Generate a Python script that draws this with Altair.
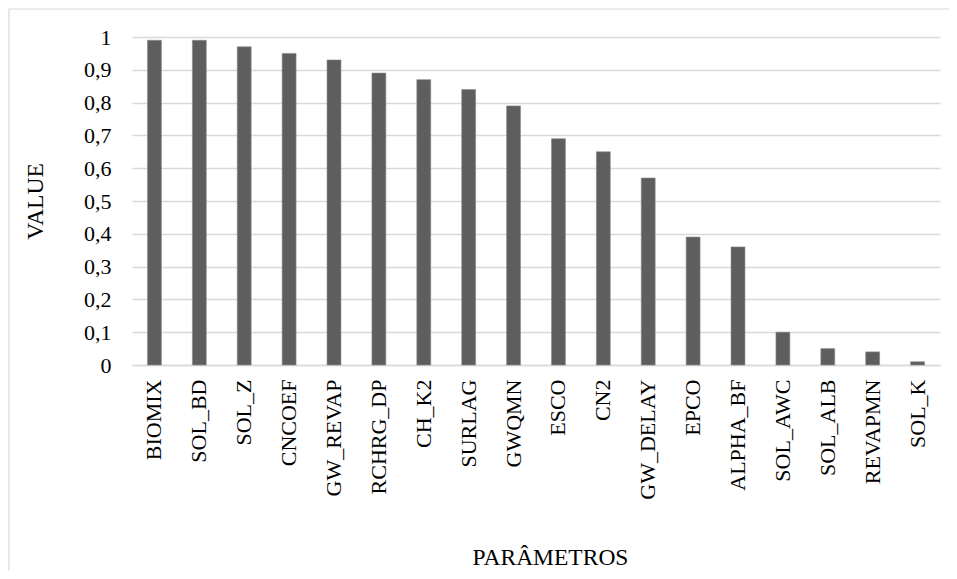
import altair as alt
import pandas as pd

parametros = ["BIOMIX", "SOL_BD", "SOL_Z", "CNCOEF", "GW_REVAP", "RCHRG_DP", "CH_K2",
              "SURLAG", "GWQMN", "ESCO", "CN2", "GW_DELAY", "EPCO", "ALPHA_BF",
              "SOL_AWC", "SOL_ALB", "REVAPMN", "SOL_K"]
values = [0.99, 0.99, 0.97, 0.95, 0.93, 0.89, 0.87, 0.84, 0.79, 0.69, 0.65, 0.57,
          0.39, 0.36, 0.10, 0.05, 0.04, 0.01]
y_ticks = [0, 0.1, 0.2, 0.3, 0.4, 0.5, 0.6, 0.7, 0.8, 0.9, 1.0]

df = pd.DataFrame({"PARAM": parametros, "VALUE": values})

FONT = "Liberation Serif"
W, H = 808, 328

border = alt.Chart(pd.DataFrame({"a": [0]})).mark_rect(
    fill="white", fillOpacity=0, stroke="#d9d9d9", strokeWidth=1.2
).encode(
    x=alt.value(-123), x2=alt.value(W + 40),
    y=alt.value(-28), y2=alt.value(H + 260)
)

bars = alt.Chart(df).mark_bar(color="#5e5e5e", stroke="#8a8a8a", strokeWidth=0.6).encode(
    x=alt.X("PARAM:N", sort=None,
            scale=alt.Scale(paddingInner=0.69, paddingOuter=0.345),
            axis=alt.Axis(title="PARÂMETROS", labelAngle=270, labelAlign="right",
                          labelBaseline="middle", labelPadding=14, ticks=False,
                          domainColor="#d9d9d9", domainWidth=1.3,
                          labelFont=FONT, labelFontSize=22, labelColor="black",
                          titleFont=FONT, titleFontSize=23.5, titleFontWeight="normal",
                          titleColor="black", titleX=418, titleY=199,
                          titleAlign="center", titleBaseline="alphabetic")),
    y=alt.Y("VALUE:Q",
            scale=alt.Scale(domain=[0, 1], nice=False),
            axis=alt.Axis(title="VALUE", values=y_ticks,
                          labelExpr="replace(format(datum.value, '.1~f'), '.', ',')",
                          domain=False, ticks=False, labelPadding=21,
                          gridColor="#d9d9d9", gridWidth=1.3,
                          labelFont=FONT, labelFontSize=22, labelColor="black",
                          titleFont=FONT, titleFontSize=23.5, titleFontWeight="normal",
                          titleColor="black", titleX=-97, titleY=H / 2,
                          titleAngle=270, titleAlign="center", titleBaseline="middle"))
)

chart = alt.layer(border, bars).properties(
    width=W, height=H,
    autosize=alt.AutoSizeParams(type="none"),
    padding={"left": 124, "top": 29, "right": 9, "bottom": 206},
).configure_view(stroke=None)

chart.save("out.html", embed_options={"renderer": "svg", "actions": False})
